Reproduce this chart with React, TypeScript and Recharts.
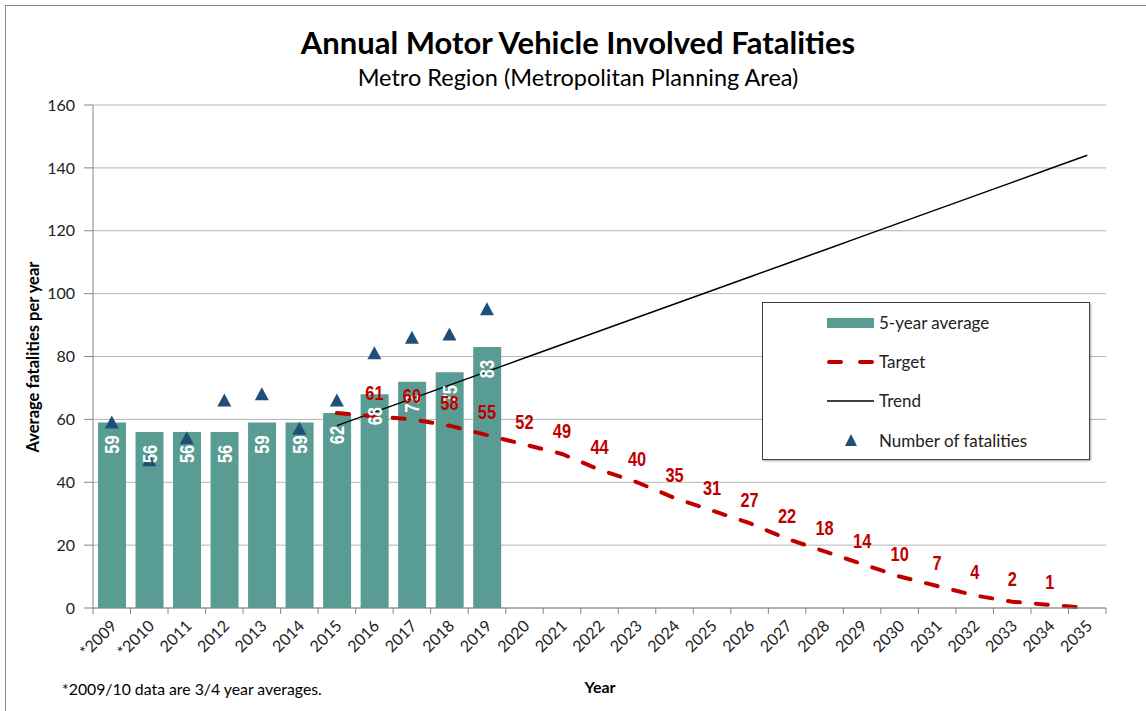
import React from 'react';
import { ComposedChart, Bar, Line, Scatter, XAxis, YAxis, CartesianGrid, LabelList } from 'recharts';

const years = [
    '*2009', '*2010', '2011', '2012', '2013', '2014', '2015', '2016', '2017', '2018',
    '2019', '2020', '2021', '2022', '2023', '2024', '2025', '2026', '2027', '2028',
    '2029', '2030', '2031', '2032', '2033', '2034', '2035',
];
// 2009-2019
const fiveYearAvg = [59, 56, 56, 56, 59, 59, 62, 68, 72, 75, 83];
const fatalities = [59, 47, 54, 66, 68, 57, 66, 81, 86, 87, 95];
// 2015-2035
const target = [62, 61, 60, 58, 55, 52, 49, 44, 40, 35, 31, 27, 22, 18, 14, 10, 7, 4, 2, 1, 0];
const trend = [58, 62.3, 66.6, 70.9, 75.2, 79.5, 83.8, 88.1, 92.4, 96.7, 101, 105.3, 109.6, 113.9, 118.2, 122.5, 126.8, 131.1, 135.4, 139.7, 144];
const yTicks = [0, 20, 40, 60, 80, 100, 120, 140, 160];
const projectionStart = years.indexOf('2015');

const data = years.map((year, i) => ({
    year,
    avg: i < fiveYearAvg.length ? fiveYearAvg[i] : null,
    count: i < fatalities.length ? fatalities[i] : null,
    target: i >= projectionStart ? target[i - projectionStart] : null,
    trend: i >= projectionStart ? trend[i - projectionStart] : null,
}));

const W = 1146;
const H = 711;
const PLOT_LEFT = 93;
const PLOT_RIGHT = 1106;
const BAND = (PLOT_RIGHT - PLOT_LEFT) / years.length;

const TEAL = '#599C94';
const RED = '#C00000';
const NAVY = '#1F4E79';
const FONT = 'Lato, "Open Sans", sans-serif';
const LABEL_FONT = '"Liberation Sans", Arial, sans-serif';

const XTick = (props: any) => {
    const { x, y, payload, index } = props;
    const axisY = y - 6;
    const lx = x + 6;
    const ly = y + 13;
    return (
        <g>
            <line x1={x - BAND / 2} x2={x - BAND / 2} y1={axisY} y2={axisY + 6} stroke="#868686" />
            {index === years.length - 1 && (
                <line x1={x + BAND / 2} x2={x + BAND / 2} y1={axisY} y2={axisY + 6} stroke="#868686" />
            )}
            <text
                x={lx}
                y={ly}
                transform={`rotate(-45 ${lx} ${ly})`}
                textAnchor="end"
                fontSize={16}
                fontFamily={FONT}
                fill="#222"
            >
                {payload.value}
            </text>
        </g>
    );
};

const BarValue = (props: any) => {
    const { x, y, width, value } = props;
    if (value == null) return null;
    const cx = x + width / 2;
    const cy = y + 22;
    return (
        <text
            x={0}
            y={0}
            dy="0.36em"
            transform={`translate(${cx} ${cy}) rotate(-90) scale(0.82 1)`}
            textAnchor="middle"
            fontSize={20}
            fontWeight="bold"
            fontFamily={LABEL_FONT}
            fill="#fff"
        >
            {value}
        </text>
    );
};

const TargetValue = (props: any) => {
    const { x, y, value, index } = props;
    if (value == null || index === projectionStart || index === years.length - 1) return null;
    return (
        <text
            x={0}
            y={0}
            transform={`translate(${x} ${y - 16}) scale(0.82 1)`}
            textAnchor="middle"
            fontSize={20}
            fontWeight="bold"
            fontFamily={LABEL_FONT}
            fill={RED}
        >
            {value}
        </text>
    );
};

const Triangle = (props: any) => {
    const { cx, cy, payload } = props;
    if (payload == null || payload.count == null) return <g />;
    return <polygon points={`${cx},${cy - 7} ${cx + 7},${cy + 6} ${cx - 7},${cy + 6}`} fill={NAVY} />;
};

const legendItems = [
    { label: '5-year average', y: 20, kind: 'bar' },
    { label: 'Target', y: 59, kind: 'target' },
    { label: 'Trend', y: 98, kind: 'trend' },
    { label: 'Number of fatalities', y: 138, kind: 'tri' },
];

export default function App() {
    return (
        <div style={{ position: 'relative', width: W, height: H, background: '#fff', overflow: 'hidden', fontFamily: FONT }}>
            <style>{'body{margin:0}'}</style>
            <div style={{ position: 'absolute', left: 5, top: 5, width: W, height: H, borderLeft: '1px solid #8a8a8a', borderTop: '1px solid #8a8a8a' }} />
            <div style={{ position: 'absolute', left: 0, width: 1156, top: 26, textAlign: 'center', fontSize: 31, lineHeight: '32px', fontWeight: 'bold', color: '#000' }}>
                Annual Motor Vehicle Involved Fatalities
            </div>
            <div style={{ position: 'absolute', left: 0, width: 1156, top: 64, textAlign: 'center', fontSize: 23.5, lineHeight: '26px', color: '#000' }}>
                Metro Region (Metropolitan Planning Area)
            </div>

            <ComposedChart
                width={W}
                height={H}
                data={data}
                margin={{ top: 105, right: W - PLOT_RIGHT, bottom: 43, left: 33 }}
                style={{ position: 'absolute', left: 0, top: 0 }}
            >
                <CartesianGrid vertical={false} stroke="#b4b4b4" />
                <XAxis
                    dataKey="year"
                    height={60}
                    interval={0}
                    tickLine={false}
                    tickSize={6}
                    tickMargin={0}
                    stroke="#868686"
                    tick={<XTick />}
                />
                <YAxis
                    width={60}
                    domain={[0, 160]}
                    ticks={yTicks}
                    tickSize={9}
                    tickMargin={9}
                    stroke="#868686"
                    tick={{ fontSize: 16, fontFamily: FONT, fill: '#222' }}
                />
                <Bar dataKey="avg" fill={TEAL} barSize={28} isAnimationActive={false}>
                    <LabelList dataKey="avg" content={<BarValue />} />
                </Bar>
                <Line dataKey="trend" stroke="#000" strokeWidth={1.5} dot={false} isAnimationActive={false} />
                <Line
                    dataKey="target"
                    stroke={RED}
                    strokeWidth={4}
                    strokeDasharray="12 16"
                    strokeLinecap="round"
                    dot={false}
                    isAnimationActive={false}
                >
                    <LabelList dataKey="target" content={<TargetValue />} />
                </Line>
                <Scatter dataKey="count" fill={NAVY} shape={<Triangle />} isAnimationActive={false} />
            </ComposedChart>

            <div style={{ position: 'absolute', left: 762, top: 302, width: 326, height: 156, border: '1px solid #404040', boxShadow: '1px 1px 2px rgba(0,0,0,0.35)', background: '#fff' }}>
                {legendItems.map((item) => (
                    <div key={item.label} style={{ position: 'absolute', left: 0, top: item.y - 12, height: 24, width: 326 }}>
                        <svg width={60} height={24} style={{ position: 'absolute', left: 60, top: 0 }}>
                            {item.kind === 'bar' && <rect x={4} y={7} width={47} height={10} fill={TEAL} />}
                            {item.kind === 'target' && (
                                <line x1={6} x2={51} y1={12} y2={12} stroke={RED} strokeWidth={4} strokeDasharray="12 19" strokeLinecap="round" />
                            )}
                            {item.kind === 'trend' && <line x1={4} x2={51} y1={12} y2={12} stroke="#000" strokeWidth={1.5} />}
                            {item.kind === 'tri' && <polygon points="28,5 34,17 22,17" fill={NAVY} />}
                        </svg>
                        <span style={{ position: 'absolute', left: 116, top: 0, lineHeight: '24px', fontSize: 17, color: '#222', whiteSpace: 'nowrap' }}>
                            {item.label}
                        </span>
                    </div>
                ))}
            </div>

            <div style={{ position: 'absolute', left: 33, top: 357, transform: 'translate(-50%, -50%) rotate(-90deg)', fontSize: 16.5, fontWeight: 'bold', whiteSpace: 'nowrap', color: '#000' }}>
                Average fatalities per year
            </div>
            <div style={{ position: 'absolute', left: 600, top: 686, transform: 'translate(-50%, -50%)', fontSize: 16, fontWeight: 'bold', color: '#000' }}>
                Year
            </div>
            <div style={{ position: 'absolute', left: 62, top: 688, transform: 'translateY(-50%)', fontSize: 15.8, color: '#000', whiteSpace: 'nowrap' }}>
                *2009/10 data are 3/4 year averages.
            </div>
        </div>
    );
}
